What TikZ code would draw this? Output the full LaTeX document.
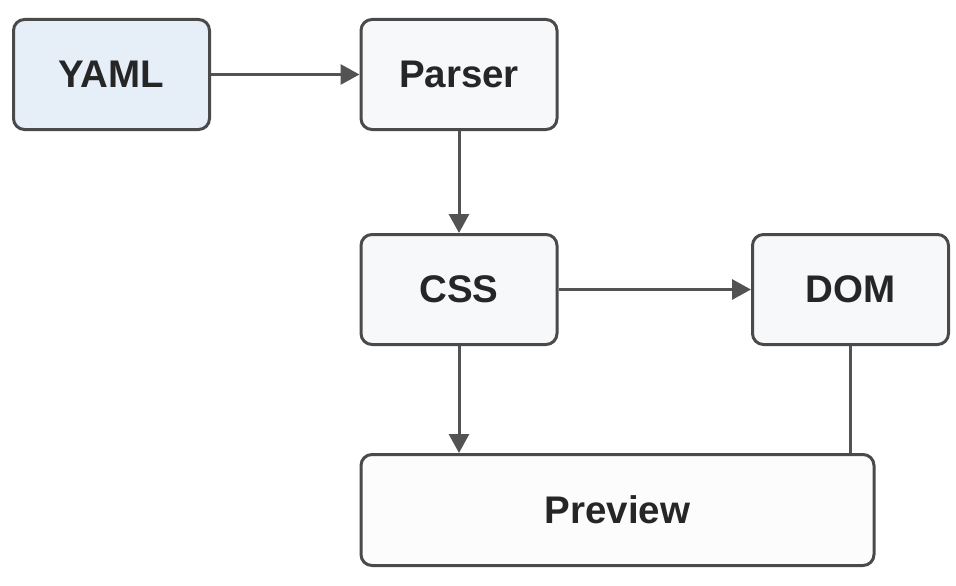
\documentclass[tikz,border=0pt]{standalone}
\usepackage{fontspec}
\setmainfont{Liberation Sans}
\usetikzlibrary{arrows.meta}
\definecolor{edge}{HTML}{4A4A4A}
\definecolor{yamlfill}{HTML}{E6EEF8}
\definecolor{boxfill}{HTML}{F7F8FA}
\begin{document}
\begin{tikzpicture}[
  x=1pt, y=-1pt,
  box/.style={draw=edge, line width=3pt, rounded corners=11pt, fill=boxfill,
    minimum width=196pt, minimum height=110pt, inner sep=0pt,
    font=\fontsize{38.5}{41}\selectfont\bfseries, text=black!85},
  link/.style={draw=edge!95, line width=3pt},
  arrow/.style={link, -{Triangle[length=19pt, width=20pt]}}
]
  \useasboundingbox (0,0) rectangle (956,586);
  % Nodes
  \node[box, fill=yamlfill] (yaml)    at (111.5,74.5)  {YAML};
  \node[box]                (parser)  at (459,74.5)    {Parser};
  \node[box]                (css)     at (459,289.5)   {CSS};
  \node[box]                (dom)     at (850.5,289.5) {DOM};
  \node[box, fill=white!60!boxfill, minimum width=513pt, minimum height=111pt]
                            (preview) at (617.5,510)   {Preview};
  % Connectors
  \draw[arrow] (yaml) -- (parser);
  \draw[arrow] (parser) -- (css);
  \draw[arrow] (css) -- (dom);
  \draw[arrow] (css) -- (css |- preview.north);
  \draw[link]  (dom) -- (dom |- preview.north);
\end{tikzpicture}
\end{document}
